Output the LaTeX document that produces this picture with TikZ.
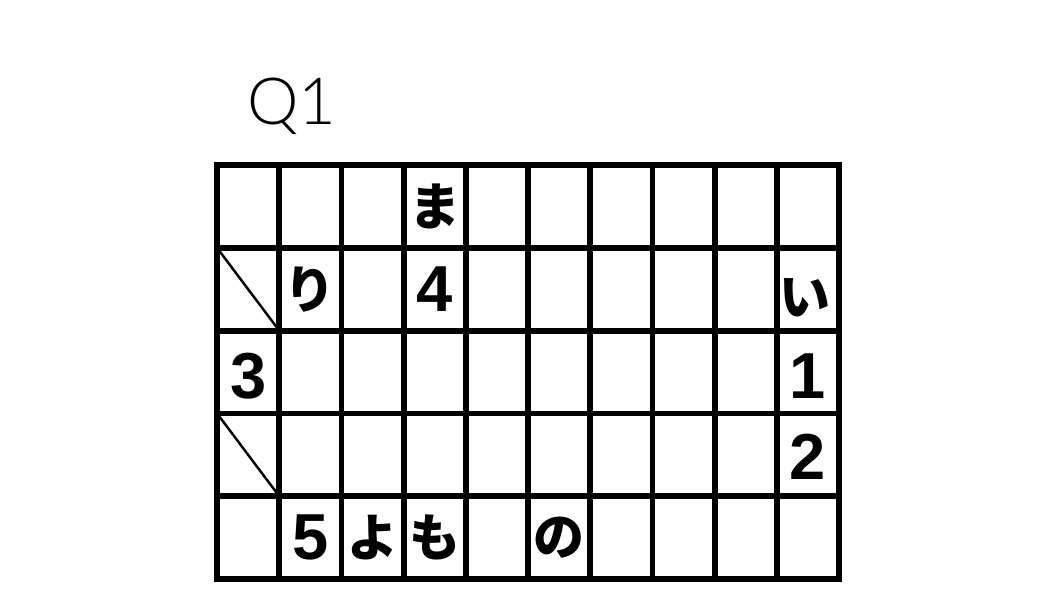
\documentclass[tikz,border=0pt]{standalone}
\usepackage{fontspec}
\setmainfont{Liberation Sans}
\newfontfamily\jpfont{Noto Sans CJK JP}
\newfontfamily\qfont{Lato Light}
\usepackage{tikz}

\tikzset{
  num/.style={font=\fontsize{18.5}{18.5}\selectfont\bfseries},
  kana/.style={font=\jpfont\fontsize{14.5}{14.5}\selectfont\bfseries}
}

\begin{document}
\begin{tikzpicture}[x=0.622cm, y=0.828cm]
\useasboundingbox (-3.489,-0.254) rectangle (13.553,6.993);

\draw (1.206,5.712) node [font=\qfont\fontsize{18.5}{18.5}\selectfont] (title) {Q1};

\draw[black, line width=1.65pt, fill=white] (0,0) rectangle (10,5);
\draw[step=1.0, black, line width=1.65pt] (0,0) grid (10,5);

% slashed cells
\draw[black, line width=0.7pt] (0,4) -- (1,3);
\draw[black, line width=0.7pt] (0,2) -- (1,1);

\draw (3.5,4.5) node [kana] (ma) {ま};

\draw (1.5,3.5) node [kana] (ri) {り};
\draw (3.5,3.5) node [num] (four) {4};
\draw (9.45,3.4) node [kana] (i) {い};

\draw (0.5,2.45) node [num] (three) {3};
\draw (9.5,2.45) node [num] (one) {1};

\draw (9.5,1.47) node [num] (two) {2};

\draw (1.5,0.5) node [num] (five) {5};
\draw (2.5,0.5) node [kana] (yo) {よ};
\draw (3.5,0.5) node [kana] (mo) {も};
\draw (5.5,0.5) node [kana] (no) {の};

\end{tikzpicture}
\end{document}
